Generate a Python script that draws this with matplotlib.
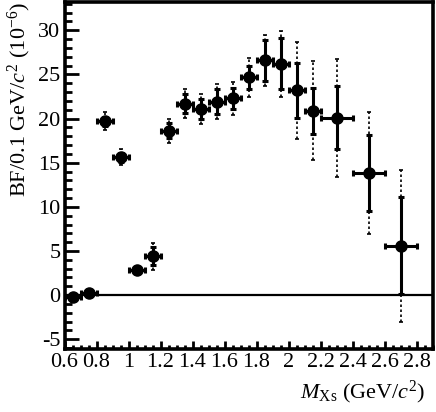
import numpy as np
import matplotlib
matplotlib.use("Agg")
import matplotlib.pyplot as plt
from matplotlib.ticker import MultipleLocator

plt.rcParams['font.family'] = ['Liberation Serif', 'DejaVu Serif']
plt.rcParams['mathtext.fontset'] = 'custom'
plt.rcParams['mathtext.rm'] = 'Liberation Serif'
plt.rcParams['mathtext.it'] = 'Liberation Serif:italic'
plt.rcParams['axes.unicode_minus'] = False

# M_Xs bin centres and half widths (GeV/c^2)
mass = [0.65, 0.75, 0.85, 0.95, 1.05, 1.15, 1.25, 1.35, 1.45, 1.55,
        1.65, 1.75, 1.85, 1.95, 2.05, 2.15, 2.3, 2.5, 2.7]
half_width = [0.05] * 16 + [0.1, 0.1, 0.1]
# BF per 0.1 GeV/c^2 (10^-6)
bf = [-0.2, 0.2, 19.7, 15.6, 2.8, 4.4, 18.6, 21.7, 21.1, 21.9,
      22.3, 24.7, 26.6, 26.2, 23.2, 20.9, 20.1, 13.8, 5.6]
stat_err = [0.2, 0.2, 0.5, 0.5, 0.3, 1.0, 0.85, 1.1, 1.1, 1.4,
            1.2, 1.3, 2.3, 2.9, 3.1, 2.6, 3.6, 4.3, 5.5]
total_err = [0.3, 0.3, 1.0, 0.9, 0.5, 1.55, 1.35, 1.6, 1.7, 2.0,
             1.9, 2.2, 2.9, 3.7, 5.5, 5.6, 6.7, 6.9, 8.6]

fig = plt.figure(figsize=(4.36, 4.12), dpi=100)
ax = fig.add_axes([0.148, 0.153, 0.844, 0.842])

ax.axhline(0, color='black', lw=1.6, zorder=1)

# total errors, dotted
eb = ax.errorbar(mass, bf, yerr=total_err, fmt='none', ecolor='black',
                 elinewidth=1.2, capsize=1.5, capthick=1.2, zorder=2)
for lc in eb[2]:
    lc.set_linestyle((0, (1.5, 1.5)))

# statistical errors, solid
ax.errorbar(mass, bf, xerr=half_width, yerr=stat_err, fmt='o', color='black',
            markersize=8, elinewidth=2.2, capsize=2.5, capthick=2.2, zorder=3)

ax.set_xlim(0.6, 2.9)
ax.set_ylim(-6.1, 33.2)
ax.xaxis.set_minor_locator(MultipleLocator(0.05))
ax.yaxis.set_minor_locator(MultipleLocator(1))
ax.set_xticks(np.arange(0.6, 2.81, 0.2))
ax.set_xticklabels(['0.6', '0.8', '1', '1.2', '1.4', '1.6', '1.8', '2', '2.2', '2.4', '2.6', '2.8'])
ax.set_yticks([-5, 0, 5, 10, 15, 20, 25, 30])

for s in ax.spines.values():
    s.set_linewidth(2.6)

ax.tick_params(axis='both', which='both', direction='in', labelsize=16, width=2.0)
ax.tick_params(axis='y', which='major', length=10, pad=3)
ax.tick_params(axis='y', which='minor', length=5)
ax.tick_params(axis='x', which='major', length=6, pad=3)
ax.tick_params(axis='x', which='minor', length=3)

ax.set_ylabel(r'BF/0.1 GeV/$c^2$ $(10^{-6})$', fontsize=16, ha='right')
ax.yaxis.set_label_coords(-0.085, 1.0)
ax.set_xlabel(r'$M_{\rm Xs}$ (GeV/$c^2$)', fontsize=16, ha='right')
ax.xaxis.set_label_coords(0.98, -0.085)

fig.savefig('out.png', dpi=100)
